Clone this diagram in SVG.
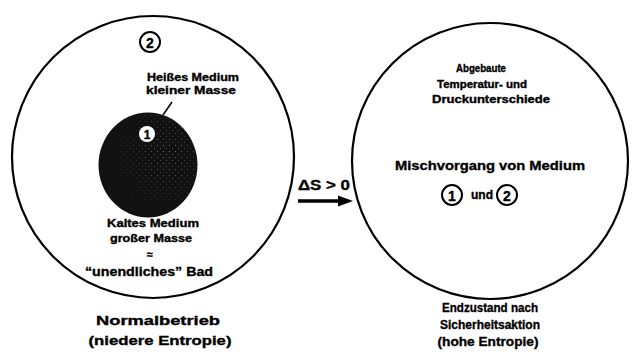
<svg xmlns="http://www.w3.org/2000/svg" width="632" height="359" viewBox="0 0 632 359">
<defs>
<style>
.t{font-family:"Liberation Sans",Arial,sans-serif;font-weight:bold;fill:#000;text-anchor:middle;stroke:#000;stroke-width:0.35}
.s{font-size:10.5px}
.m{font-size:13px}
.ring{fill:#fff;stroke:#000;stroke-width:2.2}
.num{fill:none;stroke:#000;stroke-width:2}
</style>
<pattern id="dots" width="6" height="6" patternUnits="userSpaceOnUse">
<circle cx="1.5" cy="1.5" r="0.6" fill="#888"/>
<circle cx="4.5" cy="4.2" r="0.5" fill="#777"/>
</pattern>
<radialGradient id="fade" cx="0.7" cy="0.4" r="0.6">
<stop offset="0" stop-color="#fff" stop-opacity="1"/>
<stop offset="1" stop-color="#fff" stop-opacity="0"/>
</radialGradient>
<mask id="m1"><ellipse cx="148" cy="165" rx="49.5" ry="52.5" fill="url(#fade)"/></mask>
</defs>

<g id="left-state">
<circle class="ring" cx="153" cy="157" r="141"/>
<g id="medium2-label">
<circle class="num" cx="150" cy="42" r="10"/>
<text class="t" x="150" y="47.5" font-size="14">2</text>
</g>
<g id="hot-medium">
<ellipse cx="148" cy="165" rx="49.5" ry="52.5" fill="#111"/>
<ellipse cx="148" cy="165" rx="49.5" ry="52.5" fill="url(#dots)" mask="url(#m1)"/>
<circle cx="147" cy="134" r="8" fill="#fff"/>
<text class="t" x="147" y="139" font-size="12">1</text>
</g>
<text class="t s" x="193" y="81" textLength="92" lengthAdjust="spacingAndGlyphs">Heißes Medium</text>
<text class="t s" x="191" y="94" textLength="90" lengthAdjust="spacingAndGlyphs">kleiner Masse</text>
<text class="t s" x="153" y="227" textLength="92" lengthAdjust="spacingAndGlyphs">Kaltes Medium</text>
<text class="t s" x="151" y="242" textLength="82" lengthAdjust="spacingAndGlyphs">großer Masse</text>
<text class="t s" x="150" y="258">≈</text>
<text class="t m" x="149" y="276" textLength="128" lengthAdjust="spacingAndGlyphs">“unendliches” Bad</text>
<text class="t m" x="158" y="325" textLength="124" lengthAdjust="spacingAndGlyphs">Normalbetrieb</text>
<text class="t m" x="160" y="345" textLength="143" lengthAdjust="spacingAndGlyphs">(niedere Entropie)</text>
</g>

<g id="right-state">
<circle class="ring" cx="490" cy="161" r="138"/>
<text class="t s" x="481" y="72" textLength="50" lengthAdjust="spacingAndGlyphs">Abgebaute</text>
<text class="t s" x="482" y="88" textLength="90" lengthAdjust="spacingAndGlyphs">Temperatur- und</text>
<text class="t s" x="491" y="103" textLength="118" lengthAdjust="spacingAndGlyphs">Druckunterschiede</text>
<text class="t m" x="490" y="170" textLength="190" lengthAdjust="spacingAndGlyphs">Mischvorgang von Medium</text>
<circle class="num" cx="452" cy="195" r="10"/>
<text class="t" x="452" y="200.5" font-size="14">1</text>
<text class="t" x="482" y="199" font-size="12">und</text>
<circle class="num" cx="507" cy="195" r="10"/>
<text class="t" x="507" y="200.5" font-size="14">2</text>
<text class="t m" x="490" y="312" textLength="96" lengthAdjust="spacingAndGlyphs">Endzustand nach</text>
<text class="t m" x="490" y="329" textLength="100" lengthAdjust="spacingAndGlyphs">Sicherheitsaktion</text>
<text class="t m" x="488" y="346" textLength="101" lengthAdjust="spacingAndGlyphs">(hohe Entropie)</text>
</g>

<g id="connectors">
<line x1="298" y1="201" x2="340" y2="201" stroke="#000" stroke-width="3.5"/>
<polygon points="338,195.5 353,201 338,206.5" fill="#000"/>
<line x1="163" y1="115" x2="172" y2="102" stroke="#000" stroke-width="1.5"/>
</g>
<text class="t" x="324" y="190" font-size="14" textLength="52" lengthAdjust="spacingAndGlyphs">ΔS &gt; 0</text>
</svg>
